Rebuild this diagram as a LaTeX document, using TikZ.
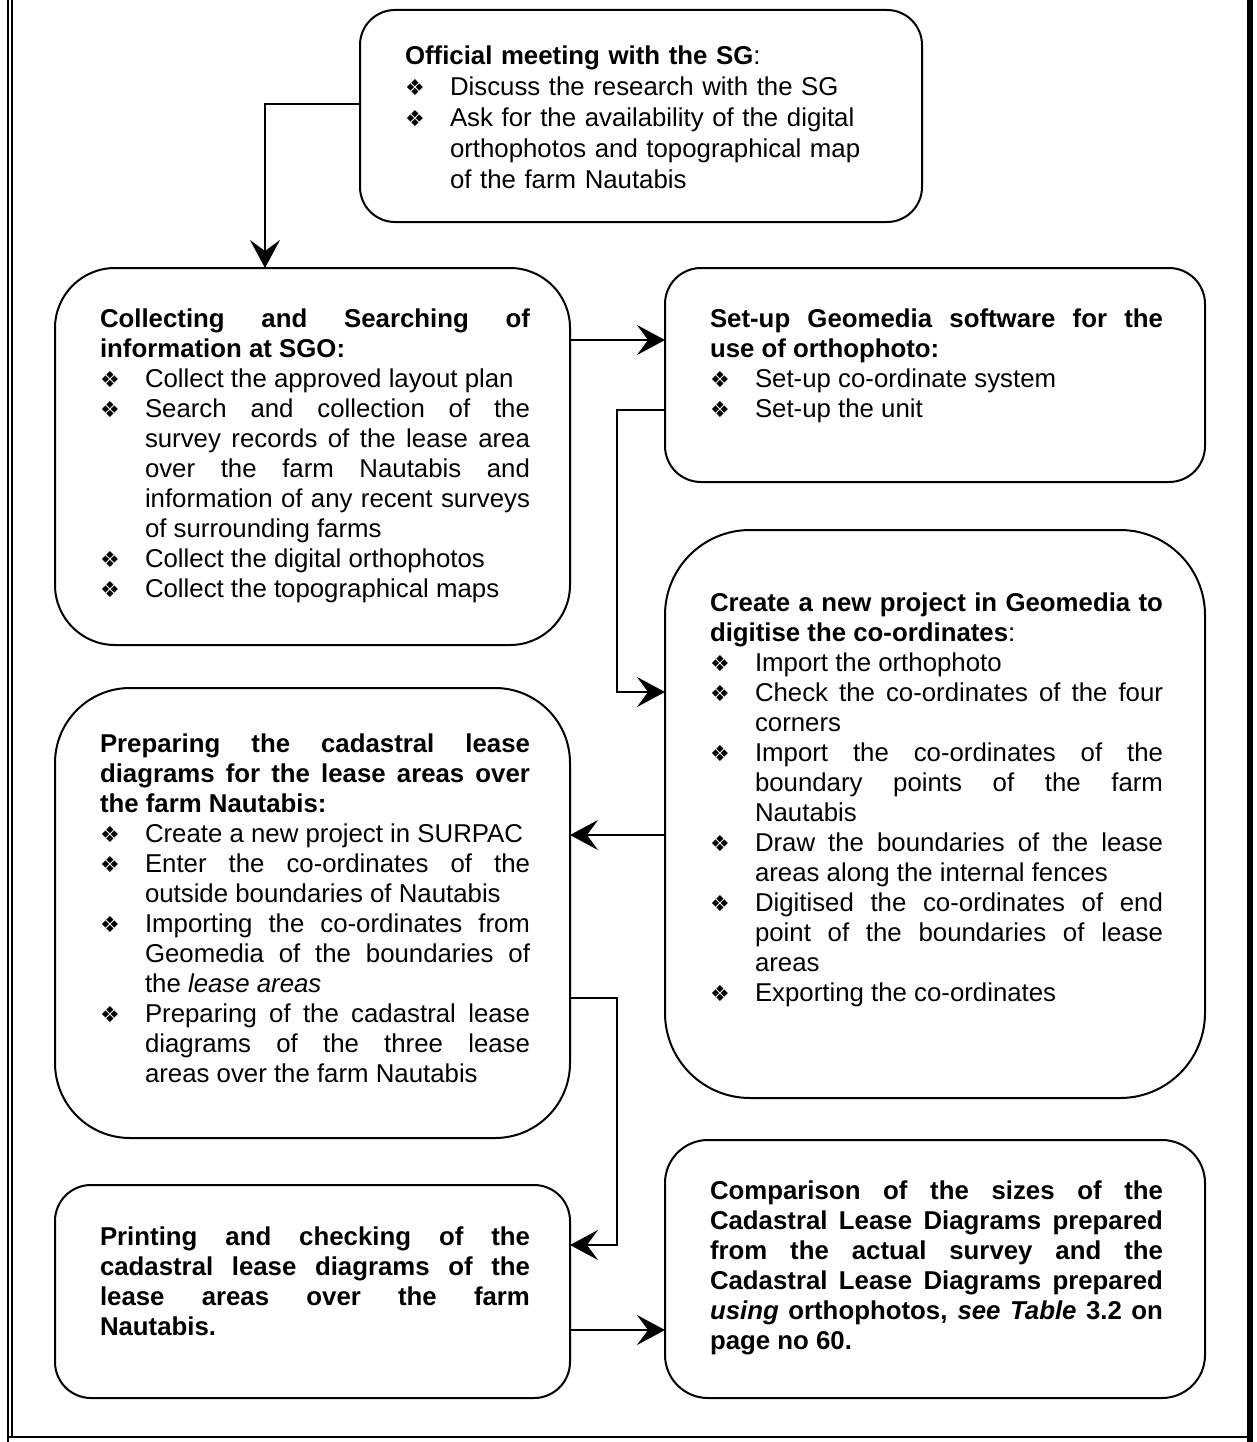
\documentclass[tikz,border=0pt]{standalone}
\usepackage{fontspec}
\setmainfont{Liberation Sans}
\newfontfamily\dejavu{DejaVu Sans}
\usetikzlibrary{arrows.meta}
\newcommand\bul{{\dejavu\fontsize{22}{22}\selectfont\raisebox{0pt}{❖}}}
\newcommand\itm{\par\hangindent=45pt\hangafter=1\noindent\makebox[45pt][l]{\bul}}
\newcommand\ts{\hyphenpenalty=10000\relax\tolerance=10000\relax\parskip=0pt\relax\noindent}
\newcommand\mainsize{\fontsize{25.8}{30}\selectfont}
\newcommand\topsize{\fontsize{25.8}{31}\selectfont}
\tikzset{
  box/.style={draw, line width=2pt, inner sep=0pt, outer sep=0pt},
  txt/.style={anchor=base west, inner sep=0pt, outer sep=0pt, text width=#1, align=justify, font=\mainsize},
  arr/.style={line width=1.8pt, -{Stealth[length=28pt,width=30pt,inset=11pt]}},
  frame/.style={line width=2pt}
}
\begin{document}
\begin{tikzpicture}[x=1pt,y=-1pt]
\useasboundingbox (0,0) rectangle (1256,1442);
% frame
\draw[frame] (8.3,0) -- (8.3,1442);
\draw[frame] (12.3,0) -- (12.3,1437);
\draw[line width=6.5pt] (1250,0) -- (1250,1442);
\draw[line width=2.5pt] (8,1437) -- (1250,1437);
% boxes
\node[box, minimum width=562pt, minimum height=212pt, rounded corners=35pt] (top) at (641,116) {};
\node[box, minimum width=515pt, minimum height=377pt, rounded corners=60pt] (coll) at (312.5,456.5) {};
\node[box, minimum width=540pt, minimum height=214pt, rounded corners=36pt] (setup) at (935,375) {};
\node[box, minimum width=540pt, minimum height=568pt, rounded corners=85pt] (create) at (935,814) {};
\node[box, minimum width=515pt, minimum height=450pt, rounded corners=75pt] (prep) at (312.5,913) {};
\node[box, minimum width=515pt, minimum height=213pt, rounded corners=36pt] (print) at (312.5,1291.5) {};
\node[box, minimum width=540pt, minimum height=258pt, rounded corners=43pt] (comp) at (935,1269) {};
% texts
\node[txt=470pt, align=left, font=\topsize] (top-t) at (405,65) {\ts\textbf{Official meeting with the SG}:
\itm Discuss the research with the SG
\itm Ask for the availability of the digital\newline orthophotos and topographical map\newline of the farm Nautabis\par};
\node[txt=430pt] (coll-t) at (100,327) {\ts\textbf{Collecting and Searching of\linebreak information at SGO:}
\itm Collect the approved layout plan
\itm Search and collection of the\linebreak survey records of the lease area\linebreak over the farm Nautabis and\linebreak information of any recent surveys\linebreak of surrounding farms
\itm Collect the digital orthophotos
\itm Collect the topographical maps\par};
\node[txt=453pt] (setup-t) at (710,327) {\ts\textbf{Set-up Geomedia software for the\linebreak use of orthophoto:}
\itm Set-up co-ordinate system
\itm Set-up the unit\par};
\node[txt=453pt] (create-t) at (710,611) {\ts\textbf{Create a new project in Geomedia to\linebreak digitise the co-ordinates}:
\itm Import the orthophoto
\itm Check the co-ordinates of the four\linebreak corners
\itm Import the co-ordinates of the\linebreak boundary points of the farm\linebreak Nautabis
\itm Draw the boundaries of the lease\linebreak areas along the internal fences
\itm Digitised the co-ordinates of end\linebreak point of the boundaries of lease\linebreak areas
\itm Exporting the co-ordinates\par};
\node[txt=430pt] (prep-t) at (100,752) {\ts\textbf{Preparing the cadastral lease\linebreak diagrams for the lease areas over\linebreak the farm Nautabis:}
\itm Create a new project in SURPAC
\itm Enter the co-ordinates of the\linebreak outside boundaries of Nautabis
\itm Importing the co-ordinates from\linebreak Geomedia of the boundaries of\linebreak the \textit{lease areas}
\itm Preparing of the cadastral lease\linebreak diagrams of the three lease\linebreak areas over the farm Nautabis\par};
\node[txt=430pt] (print-t) at (100,1245) {\ts\textbf{Printing and checking of the\linebreak cadastral lease diagrams of the\linebreak lease areas over the farm\linebreak Nautabis.}\par};
\node[txt=453pt] (comp-t) at (710,1199) {\ts\textbf{Comparison of the sizes of the\linebreak Cadastral Lease Diagrams prepared\linebreak from the actual survey and the\linebreak Cadastral Lease Diagrams prepared\linebreak \textit{using} orthophotos, \textit{see Table} 3.2 on\linebreak page no 60.}\par};
% helper coordinates
\coordinate (x265) at (265,0);
\coordinate (x617) at (617,0);
\coordinate (y104) at (0,104);
\coordinate (y340) at (0,340);
\coordinate (y410) at (0,410);
\coordinate (y692) at (0,692);
\coordinate (y835) at (0,835);
\coordinate (y998) at (0,998);
\coordinate (y1245) at (0,1245);
\coordinate (y1330) at (0,1330);
% connectors
\draw[arr] (top.west |- y104) -| (x265 |- coll.north);
\draw[arr] (coll.east |- y340) -- (setup.west |- y340);
\draw[arr] (setup.west |- y410) -- (x617 |- y410) |- (create.west |- y692);
\draw[arr] (create.west |- y835) -- (prep.east |- y835);
\draw[arr] (prep.east |- y998) -- (x617 |- y998) |- (print.east |- y1245);
\draw[arr] (print.east |- y1330) -- (comp.west |- y1330);
\end{tikzpicture}
\end{document}
